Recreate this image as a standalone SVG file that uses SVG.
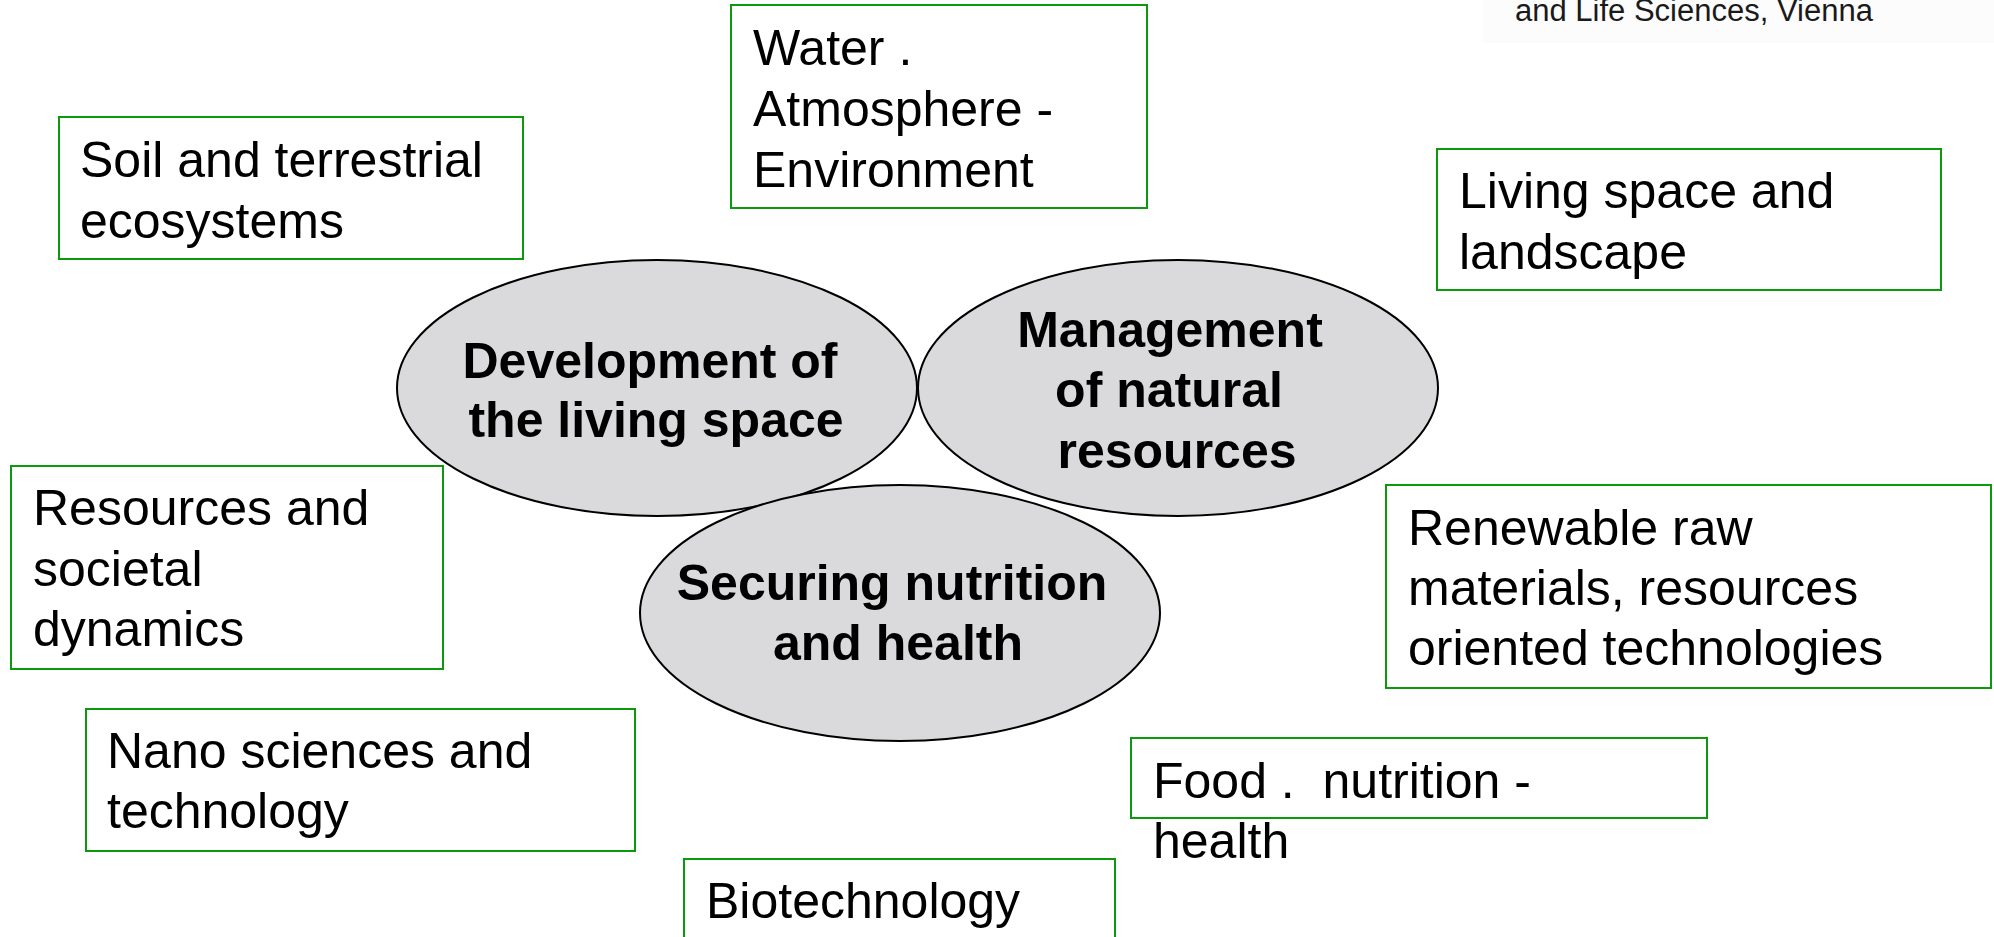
<svg xmlns="http://www.w3.org/2000/svg" width="1994" height="937" viewBox="0 0 1994 937">
<style>
.box{fill:#ffffff;stroke:#0c9a0c;stroke-width:2}
.ell{fill:#dadadc;stroke:#000000;stroke-width:2}
.t{font-family:"Liberation Sans",Arial,sans-serif;font-size:50px;fill:#000000;white-space:pre}
.b{font-family:"Liberation Sans",Arial,sans-serif;font-size:50px;font-weight:bold;fill:#000000;text-anchor:middle}
.hdr{font-family:"Liberation Sans",Arial,sans-serif;font-size:31px;fill:#1a1a1a}
</style>
<rect x="0" y="0" width="1994" height="937" fill="#ffffff"/>
<g id="header">
<rect x="1483" y="0" width="511" height="43" fill="#fcfcfc"/>
<text class="hdr" x="1515" y="21">and Life Sciences, Vienna</text>
</g>
<g id="connectors"></g>
<g id="soil">
<rect class="box" x="59" y="117" width="464" height="142"/>
<text class="t" x="80" y="177">Soil and terrestrial</text>
<text class="t" x="80" y="238">ecosystems</text>
</g>
<g id="water">
<rect class="box" x="731" y="5" width="416" height="203"/>
<text class="t" x="753" y="65">Water .</text>
<text class="t" x="753" y="126">Atmosphere -</text>
<text class="t" x="753" y="187">Environment</text>
</g>
<g id="living">
<rect class="box" x="1437" y="149" width="504" height="141"/>
<text class="t" x="1459" y="208">Living space and</text>
<text class="t" x="1459" y="269">landscape</text>
</g>
<g id="resources">
<rect class="box" x="11" y="466" width="432" height="203"/>
<text class="t" x="33" y="525">Resources and</text>
<text class="t" x="33" y="586">societal</text>
<text class="t" x="33" y="646">dynamics</text>
</g>
<g id="renewable">
<rect class="box" x="1386" y="485" width="605" height="203"/>
<text class="t" x="1408" y="545">Renewable raw</text>
<text class="t" x="1408" y="605">materials, resources</text>
<text class="t" x="1408" y="665">oriented technologies</text>
</g>
<g id="nano">
<rect class="box" x="86" y="709" width="549" height="142"/>
<text class="t" x="107" y="768">Nano sciences and</text>
<text class="t" x="107" y="828">technology</text>
</g>
<g id="food">
<rect class="box" x="1131" y="738" width="576" height="80"/>
<text class="t" x="1153" y="798" xml:space="preserve">Food .  nutrition -</text>
<text class="t" x="1153" y="858">health</text>
</g>
<g id="biotech">
<rect class="box" x="684" y="859" width="431" height="90"/>
<text class="t" x="706" y="918">Biotechnology</text>
</g>
<g id="development">
<ellipse class="ell" cx="657" cy="388" rx="260" ry="128"/>
<text class="b" x="650" y="378">Development of</text>
<text class="b" x="656" y="437">the living space</text>
</g>
<g id="management">
<ellipse class="ell" cx="1178" cy="388" rx="260" ry="128"/>
<text class="b" x="1170" y="347">Management</text>
<text class="b" x="1169" y="407">of natural</text>
<text class="b" x="1177" y="468">resources</text>
</g>
<g id="securing">
<ellipse class="ell" cx="900" cy="613" rx="260" ry="128"/>
<text class="b" x="892" y="600">Securing nutrition</text>
<text class="b" x="898" y="660">and health</text>
</g>
</svg>
